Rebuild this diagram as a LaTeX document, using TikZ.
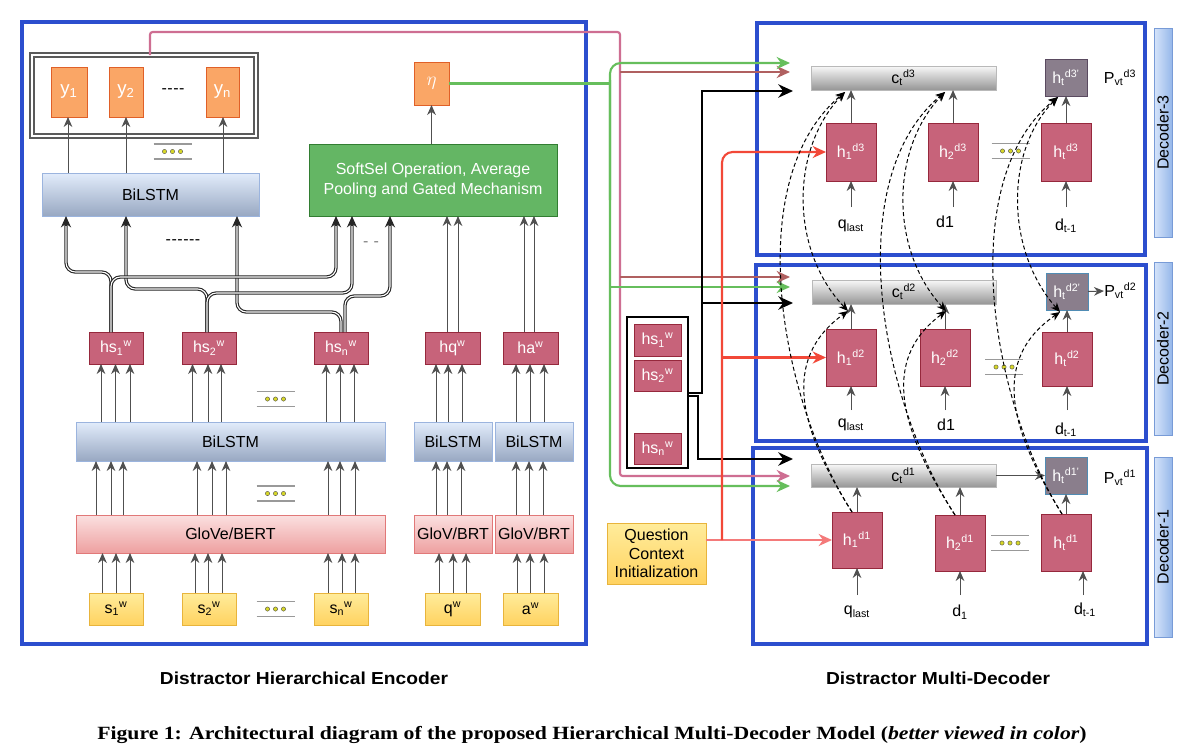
\documentclass[tikz,border=0pt]{standalone}
\usepackage{fontspec}
\usepackage{graphicx}
\setmainfont{Liberation Sans}
\newfontfamily\capfont{Liberation Serif}
\usetikzlibrary{arrows.meta,calc}
\newcommand\myfs{\fontsize{12}{14}\selectfont}
\newcommand\mybig{\fontsize{14}{16}\selectfont}
\newcommand\hy{-\kern0.4pt}
\definecolor{encblue}{RGB}{44,78,206}
\definecolor{yfill}{RGB}{250,166,102}
\definecolor{ydraw}{RGB}{224,96,40}
\definecolor{hsfill}{RGB}{199,99,122}
\definecolor{hsdraw}{RGB}{150,40,60}
\definecolor{blT}{RGB}{226,236,251}
\definecolor{blB}{RGB}{152,168,194}
\definecolor{blD}{RGB}{155,180,222}
\definecolor{glT}{RGB}{251,224,224}
\definecolor{glB}{RGB}{238,160,160}
\definecolor{glD}{RGB}{225,120,120}
\definecolor{yeT}{RGB}{255,236,155}
\definecolor{yeB}{RGB}{255,210,96}
\definecolor{yeD}{RGB}{232,180,60}
\definecolor{ssfill}{RGB}{100,182,100}
\definecolor{ssdraw}{RGB}{50,125,50}
\definecolor{cT}{RGB}{248,248,248}
\definecolor{cB}{RGB}{150,150,150}
\definecolor{cD}{RGB}{185,185,185}
\definecolor{hpfill}{RGB}{138,126,140}
\definecolor{hpdraw}{RGB}{90,74,96}
\definecolor{hpblue}{RGB}{80,140,180}
\definecolor{sdT}{RGB}{214,228,250}
\definecolor{sdB}{RGB}{150,184,234}
\definecolor{sdD}{RGB}{120,155,215}
\definecolor{redl}{RGB}{242,72,56}
\definecolor{redm}{RGB}{244,122,122}
\definecolor{grnl}{RGB}{102,190,92}
\definecolor{pinkl}{RGB}{206,110,146}
\definecolor{brnl}{RGB}{176,96,96}
\definecolor{arrg}{RGB}{80,80,80}
\definecolor{dotc}{RGB}{215,215,40}
\definecolor{dblg}{RGB}{90,90,90}
\newcommand\bx[7]{%
  \pgfmathsetmacro\bw{(#4-(#2))*0.75}%
  \pgfmathsetmacro\bh{(#5-(#3))*0.75}%
  \node[#6, minimum width=\bw pt, minimum height=\bh pt] (#1) at ({(#2+#4)/2},{(#3+#5)/2}) {#7};}
\newcommand\dblpath[2][black!85]{%
  \draw[#1, line width=2.5pt, rounded corners=7pt, -{Stealth[length=8.5pt,width=7.5pt]}] #2;
  \draw[white, line width=0.8pt, rounded corners=7pt, shorten >=7.5pt] #2;}
\tikzset{
  base/.style={inner sep=0pt, outer sep=0pt, line width=0.75pt, align=center, font=\myfs},
  ybox/.style={base, fill=yfill, draw=ydraw, text=white, font=\mybig},
  hsbox/.style={base, fill=hsfill, draw=hsdraw, text=white},
  lstm/.style={base, top color=blT, bottom color=blB, draw=blD},
  glove/.style={base, top color=glT, bottom color=glB, draw=glD},
  inp/.style={base, top color=yeT, bottom color=yeB, draw=yeD},
  soft/.style={base, fill=ssfill, draw=ssdraw, text=white},
  cbar/.style={base, top color=cT, bottom color=cB, draw=cD},
  hp/.style={base, fill=hpfill, draw=hpdraw, text=white},
  hpb/.style={base, fill=hpfill, draw=hpblue, text=white},
  side/.style={base, left color=sdT, right color=sdB, draw=sdD},
  frame/.style={inner sep=0pt, outer sep=0pt, draw=encblue, line width=2.6pt},
  dblbox/.style={inner sep=0pt, outer sep=0pt, draw=dblg, double=white, double distance=1.4pt, line width=1.8pt},
  stackbox/.style={inner sep=0pt, outer sep=0pt, draw=black, line width=1.5pt},
  arr/.style={draw=arrg, line width=0.75pt, -{Stealth[length=7.5pt,width=6.5pt]}},
  dsh/.style={black, line width=0.75pt, dash pattern=on 3pt off 2pt, -{Stealth[length=7pt,width=6pt]}},
  lbl/.style={inner sep=0pt, font=\myfs},
  bt/.style={-{Stealth[length=10pt,width=9pt]}},
  blk/.style={black, line width=2.2pt, -{Stealth[length=11pt,width=10pt]}},
  ellip/.pic={
    \draw[gray!80, line width=0.8pt] (-19,-7.5) -- (19,-7.5) (-19,7.5) -- (19,7.5);
    \foreach \i in {-8,0,8} \filldraw[fill=dotc, draw=gray!60!black, line width=0.3pt] (\i,0) circle (1.6pt);
  }
}
\begin{document}
\begin{tikzpicture}[x=0.75pt,y=-0.75pt]
\useasboundingbox (0,0) rectangle (1184,753);
\fill[white] (0,0) rectangle (1184,753);

% ---------------- Encoder ----------------
\bx{enc}{22}{22}{586}{644}{frame}{}
\bx{outbox}{32}{55}{256}{136}{dblbox}{}
\bx{y1}{51}{67}{87}{117}{ybox}{y\textsubscript{1}}
\bx{y2}{109}{67}{143}{117}{ybox}{y\textsubscript{2}}
\bx{yn}{206}{67}{239}{117}{ybox}{y\textsubscript{n}}
\node[lbl] (ydots) at (173,91) {\hy\hy\hy-};
\bx{bil2}{42}{173}{259}{216}{lstm}{BiLSTM}
\bx{eta}{414}{62}{449}{105}{ybox}{$\eta$}
\bx{soft}{309}{144}{557}{216}{soft}{SoftSel Operation, Average\\[1pt]Pooling and Gated Mechanism}

\bx{hs1}{89}{332}{143}{364}{hsbox}{hs\textsubscript{1}\textsuperscript{w}}
\bx{hs2}{182}{332}{236}{364}{hsbox}{hs\textsubscript{2}\textsuperscript{w}}
\bx{hsn}{314}{332}{368}{364}{hsbox}{hs\textsubscript{n}\textsuperscript{w}}
\bx{hq}{425}{332}{480}{364}{hsbox}{hq\textsuperscript{w}}
\bx{ha}{503}{332}{558}{364}{hsbox}{ha\textsuperscript{w}}

\bx{bil}{76}{422}{385}{461}{lstm}{BiLSTM}
\bx{bilq}{414}{422}{492}{461}{lstm}{BiLSTM}
\bx{bila}{495}{422}{573}{461}{lstm}{BiLSTM}
\bx{glo}{76}{515}{385}{553}{glove}{GloVe/BERT}
\bx{gloq}{414}{515}{492}{553}{glove}{GloV/BRT}
\bx{gloa}{495}{515}{573}{553}{glove}{GloV/BRT}

\bx{s1}{89}{593}{143}{625}{inp}{s\textsubscript{1}\textsuperscript{w}}
\bx{s2}{182}{593}{236}{625}{inp}{s\textsubscript{2}\textsuperscript{w}}
\bx{sn}{314}{593}{368}{625}{inp}{s\textsubscript{n}\textsuperscript{w}}
\bx{qw}{425}{593}{480}{625}{inp}{q\textsuperscript{w}}
\bx{aw}{503}{593}{558}{625}{inp}{a\textsuperscript{w}}

\pic at (172.5,151.5) {ellip};
\pic at (275.5,399) {ellip};
\pic at (275.5,493.5) {ellip};
\pic at (275.5,609) {ellip};
\node[lbl] (dashA) at (183,242) {\hy\hy\hy\hy\hy-};
\node[lbl, text=gray] (dashB) at (371,244) {-\,\,-};

% arrows bottom -> top
\foreach \x in {102.5,116,130} \draw[arr] (\x,0 |- s1.north) -- (\x,0 |- glo.south);
\foreach \x in {195,208,222} \draw[arr] (\x,0 |- s2.north) -- (\x,0 |- glo.south);
\foreach \x in {328,342,355} \draw[arr] (\x,0 |- sn.north) -- (\x,0 |- glo.south);
\foreach \x in {439,453,466} \draw[arr] (\x,0 |- qw.north) -- (\x,0 |- gloq.south);
\foreach \x in {517,530,544} \draw[arr] (\x,0 |- aw.north) -- (\x,0 |- gloa.south);
\foreach \x in {96,111,123,197,212,226,328,340,355} \draw[arr] (\x,0 |- glo.north) -- (\x,0 |- bil.south);
\foreach \x in {436,447,461} \draw[arr] (\x,0 |- gloq.north) -- (\x,0 |- bilq.south);
\foreach \x in {516,529,543} \draw[arr] (\x,0 |- gloa.north) -- (\x,0 |- bila.south);
\foreach \x in {101,115.5,130} \draw[arr] (\x,0 |- bil.north) -- (\x,0 |- hs1.south);
\foreach \x in {192.5,208,221} \draw[arr] (\x,0 |- bil.north) -- (\x,0 |- hs2.south);
\foreach \x in {326,340,354} \draw[arr] (\x,0 |- bil.north) -- (\x,0 |- hsn.south);
\foreach \x in {436,448,462} \draw[arr] (\x,0 |- bilq.north) -- (\x,0 |- hq.south);
\foreach \x in {516,530,544} \draw[arr] (\x,0 |- bila.north) -- (\x,0 |- ha.south);
\foreach \x in {447,458} \draw[arr] (\x,0 |- hq.north) -- (\x,0 |- soft.south);
\foreach \x in {524,534} \draw[arr] (\x,0 |- ha.north) -- (\x,0 |- soft.south);
\draw[arr] (68,0 |- bil2.north) -- (68,0 |- y1.south);
\draw[arr] (126,0 |- bil2.north) -- (126,0 |- y2.south);
\draw[arr] (223,0 |- bil2.north) -- (223,0 |- yn.south);
\draw[arr] (eta.south |- soft.north) -- (eta.south);

% crossing double lines
\dblpath{(111,0 |- hs1.north) -- (111,272) -- (66,272) -- (66,0 |- bil2.south)}
\dblpath{(207,0 |- hs2.north) -- (207,289) -- (126,289) -- (126,0 |- bil2.south)}
\dblpath{(341,0 |- hsn.north) -- (341,312) -- (237,312) -- (237,0 |- bil2.south)}
\dblpath{(111,0 |- hs1.north) -- (111,277) -- (336,277) -- (336,0 |- soft.south)}
\dblpath{(207,0 |- hs2.north) -- (207,293) -- (352,293) -- (352,0 |- soft.south)}
\dblpath{(345,0 |- hsn.north) -- (345,296) -- (390,296) -- (390,0 |- soft.south)}

% ---------------- Middle ----------------
\bx{stack}{627}{317}{688}{468}{stackbox}{}
\bx{hsA}{634}{324}{681}{356}{hsbox}{hs\textsubscript{1}\textsuperscript{w}}
\bx{hsB}{634}{360}{681}{391}{hsbox}{hs\textsubscript{2}\textsuperscript{w}}
\bx{hsC}{634}{433}{681}{464}{hsbox}{hs\textsubscript{n}\textsuperscript{w}}
\bx{qci}{607}{523}{706}{584}{inp}{Question\\Context\\Initialization}

% ---------------- Decoders ----------------
\bx{dec3}{757}{23}{1145}{255}{frame}{}
\bx{dec2}{756}{265}{1146}{441}{frame}{}
\bx{dec1}{753}{448}{1147}{644}{frame}{}
\bx{side3}{1154}{28}{1172}{237}{side}{\rotatebox{90}{Decoder-3}}
\bx{side2}{1154}{262}{1172}{435}{side}{\rotatebox{90}{Decoder-2}}
\bx{side1}{1154}{457}{1172}{637}{side}{\rotatebox{90}{Decoder-1}}

% decoder 3
\bx{c3}{811}{66}{996}{90}{cbar}{c\textsubscript{t}\textsuperscript{d3}}
\bx{h1d3}{826}{123}{876}{181}{hsbox}{h\textsubscript{1}\textsuperscript{d3}}
\bx{h2d3}{928}{123}{978}{181}{hsbox}{h\textsubscript{2}\textsuperscript{d3}}
\bx{htd3}{1041}{123}{1091}{181}{hsbox}{h\textsubscript{t}\textsuperscript{d3}}
\bx{ht3p}{1045}{59}{1087}{96}{hp}{h\textsubscript{t}\textsuperscript{d3'}}
\node[lbl] (p3) at (1120,78) {P\textsubscript{vt}\textsuperscript{d3}};
\node[lbl] (q3) at (851,226) {q\textsubscript{last}};
\node[lbl] (d3a) at (945,222) {d1};
\node[lbl] (dt3) at (1066,226) {d\textsubscript{t-1}};
\pic at (1010.5,151) {ellip};
\draw[arr] (h1d3.south |- 0,207) -- (h1d3.south);
\draw[arr] (h2d3.south |- 0,207) -- (h2d3.south);
\draw[arr] (htd3.south |- 0,207) -- (htd3.south);
\draw[arr] (h1d3.north) -- (h1d3.north |- c3.south);
\draw[arr] (h2d3.north) -- (h2d3.north |- c3.south);
\draw[arr] (htd3.north) -- (htd3.north |- ht3p.south);

% decoder 2
\bx{c2}{812}{280}{996}{304}{cbar}{c\textsubscript{t}\textsuperscript{d2}}
\bx{h1d2}{826}{329}{876}{386}{hsbox}{h\textsubscript{1}\textsuperscript{d2}}
\bx{h2d2}{920}{329}{970}{386}{hsbox}{h\textsubscript{2}\textsuperscript{d2}}
\bx{htd2}{1042}{332}{1092}{386}{hsbox}{h\textsubscript{t}\textsuperscript{d2}}
\bx{ht2p}{1046}{273}{1088}{310}{hpb}{h\textsubscript{t}\textsuperscript{d2'}}
\node[lbl, anchor=west] (p2) at (1104,291) {P\textsubscript{vt}\textsuperscript{d2}};
\node[lbl] (q2) at (851,425) {q\textsubscript{last}};
\node[lbl] (d2a) at (946,425) {d1};
\node[lbl] (dt2) at (1066,430) {d\textsubscript{t-1}};
\pic at (1004,367) {ellip};
\draw[arr] (h1d2.south |- 0,410) -- (h1d2.south);
\draw[arr] (h2d2.south |- 0,410) -- (h2d2.south);
\draw[arr] (htd2.south |- 0,410) -- (htd2.south);
\draw[arr] (h1d2.north) -- (h1d2.north |- c2.south);
\draw[arr] (h2d2.north) -- (h2d2.north |- c2.south);
\draw[arr] (htd2.north) -- (htd2.north |- ht2p.south);
\draw[arr] (ht2p.east) -- (p2.west);

% decoder 1
\bx{c1}{811}{464}{996}{487}{cbar}{c\textsubscript{t}\textsuperscript{d1}}
\bx{h1d1}{832}{512}{882}{568}{hsbox}{h\textsubscript{1}\textsuperscript{d1}}
\bx{h2d1}{935}{515}{985}{571}{hsbox}{h\textsubscript{2}\textsuperscript{d1}}
\bx{htd1}{1041}{514}{1091}{571}{hsbox}{h\textsubscript{t}\textsuperscript{d1}}
\bx{ht1p}{1045}{457}{1087}{494}{hpb}{h\textsubscript{t}\textsuperscript{d1'}}
\node[lbl] (p1) at (1120,478) {P\textsubscript{vt}\textsuperscript{d1}};
\node[lbl] (q1) at (857,612) {q\textsubscript{last}};
\node[lbl] (d1a) at (960,612) {d\textsubscript{1}};
\node[lbl] (dt1) at (1085,610) {d\textsubscript{t-1}};
\pic at (1010,543) {ellip};
\draw[arr] (h1d1.south |- 0,595) -- (h1d1.south);
\draw[arr] (h2d1.south |- 0,595) -- (h2d1.south);
\draw[arr] (1083,595) -- (1083,0 |- htd1.south);
\draw[arr] (h1d1.north) -- (h1d1.north |- c1.south);
\draw[arr] (h2d1.north) -- (h2d1.north |- c1.south);
\draw[arr] (htd1.north) -- (htd1.north |- ht1p.south);
\draw[arr] (c1.east) -- (ht1p.west);

% ---------------- Long connectors ----------------
\coordinate (in3g) at (790,63);
\coordinate (in3b) at (790,72);
\coordinate (in3k) at (793,91);
\coordinate (in2b) at (790,277);
\coordinate (in2g) at (790,287);
\coordinate (in2k) at (793,303);
\coordinate (in1k) at (793,459);
\coordinate (in1p) at (790,476);
\coordinate (in1g) at (790,486);

\draw[pinkl, line width=1.6pt, rounded corners=2pt, bt] (150,0 |- outbox.north) -- (150,32) -- (620,32) -- (620,476) -- (in1p);
\draw[brnl, line width=1.6pt, bt] (620,72) -- (in3b);
\draw[brnl, line width=1.6pt, bt] (620,277) -- (in2b);

\draw[grnl, line width=1.6pt] (eta.east) -- (610,0 |- eta.east);
\draw[grnl, line width=1.6pt, rounded corners=8pt, bt] (610,200) -- (610,63) -- (in3g);
\draw[grnl, line width=1.6pt, rounded corners=8pt, bt] (610,80) -- (610,486) -- (in1g);
\draw[grnl, line width=1.6pt, bt] (610,287) -- (in2g);

\draw[blk] (stack.east |- 0,393) -- (702,393) -- (702,91) -- (in3k);
\draw[blk, line width=1.5pt] (702,303) -- (in2k);
\draw[blk] (stack.east |- 0,396) -- (698,396) -- (698,459) -- (in1k);

\draw[redm, line width=1.6pt, bt] (qci.east |- h1d1.west) -- (h1d1.west);
\draw[redl, line width=1.6pt, rounded corners=8pt, bt] (722,0 |- h1d1.west) -- (722,0 |- h1d3.west) -- (h1d3.west);
\draw[redl, line width=1.6pt, bt] (722,0 |- h1d2.west) -- (h1d2.west);

% ---------------- Dashed attention curves ----------------
\coordinate (t3a) at (845,92);
\coordinate (t3b) at (945,92);
\coordinate (t3c) at (1058,97);
\coordinate (t2a) at (848,311);
\coordinate (t2b) at (946,311);
\coordinate (t2c) at (1060,312);
\draw[dsh] (852,0 |- h1d1.north) .. controls (780,400) and (740,180) .. (t3a);
\draw[dsh] (852,0 |- h1d1.north) .. controls (800,430) and (780,360) .. (t2a);
\draw[dsh, {Stealth[length=7pt,width=6pt]}-{Stealth[length=7pt,width=6pt]}] (t2a) .. controls (790,250) and (790,150) .. (t3a);
\draw[dsh] (955,0 |- h2d1.north) .. controls (880,400) and (840,180) .. (t3b);
\draw[dsh] (955,0 |- h2d1.north) .. controls (900,430) and (880,360) .. (t2b);
\draw[dsh, {Stealth[length=7pt,width=6pt]}-{Stealth[length=7pt,width=6pt]}] (t2b) .. controls (890,250) and (890,150) .. (t3b);
\draw[dsh] (1062,0 |- htd1.north) .. controls (990,400) and (955,180) .. (t3c);
\draw[dsh] (1062,0 |- htd1.north) .. controls (1010,430) and (990,360) .. (t2c);
\draw[dsh, {Stealth[length=7pt,width=6pt]}-{Stealth[length=7pt,width=6pt]}] (t2c) .. controls (1005,250) and (1005,150) .. (t3c);

% ---------------- Captions ----------------
\node[inner sep=0pt] (capL) at (304,678) {\resizebox{216pt}{\height}{\fontsize{13}{15}\selectfont\bfseries Distractor Hierarchical Encoder}};
\node[inner sep=0pt] (capR) at (938,678) {\resizebox{168pt}{\height}{\fontsize{13}{15}\selectfont\bfseries Distractor Multi-Decoder}};
\node[inner sep=0pt] (fig) at (592,735) {\resizebox{742pt}{\height}{\capfont\fontsize{14}{16}\selectfont\bfseries Figure 1: Architectural diagram of the proposed Hierarchical Multi-Decoder Model (\textit{better viewed in color})}};
\end{tikzpicture}
\end{document}
